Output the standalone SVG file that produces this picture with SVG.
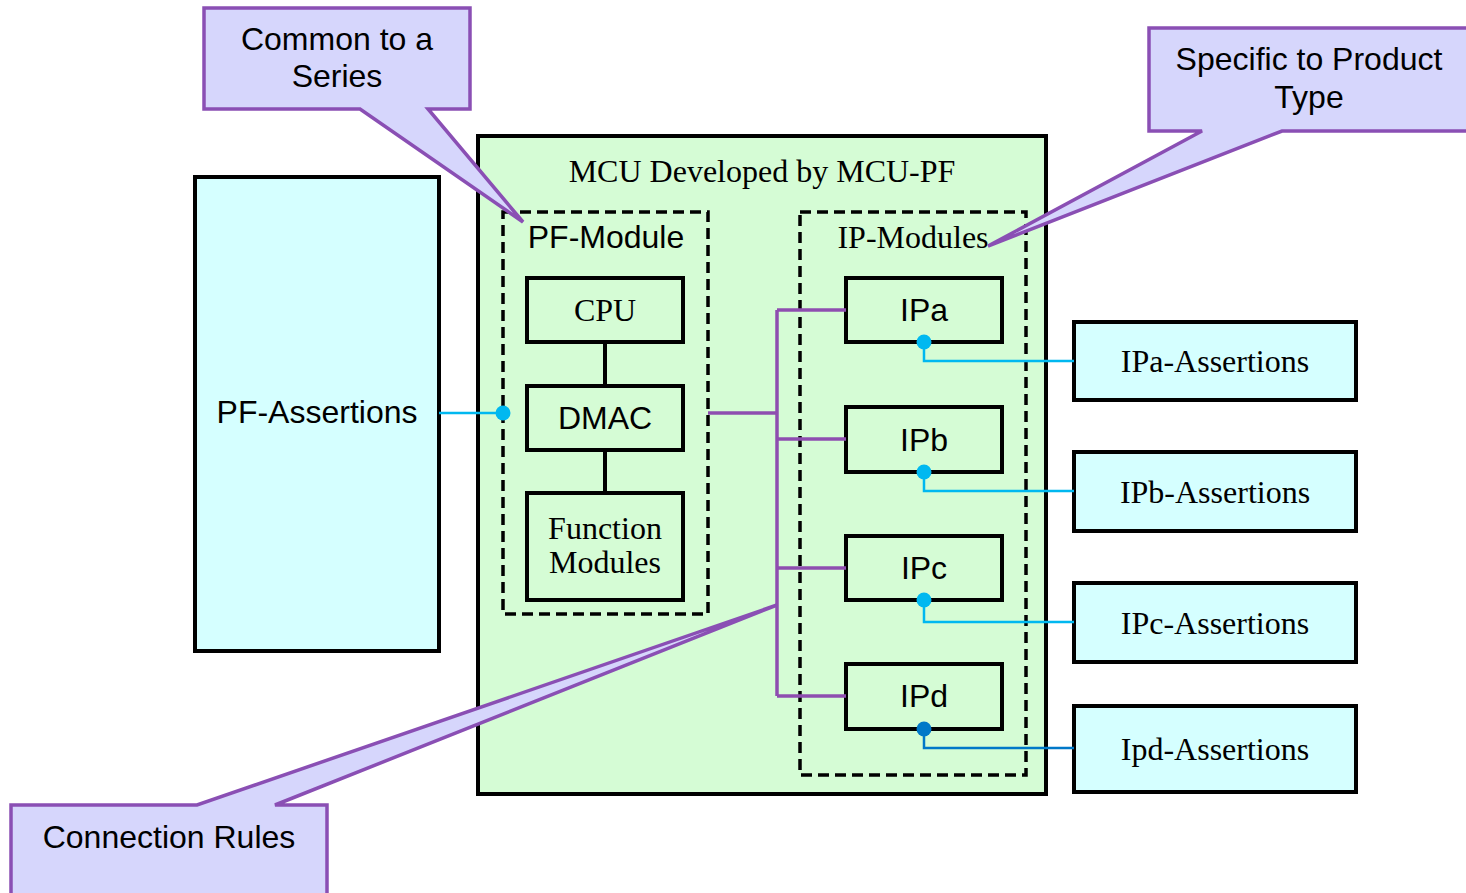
<svg xmlns="http://www.w3.org/2000/svg" width="1466" height="893" viewBox="0 0 1466 893">
  <style>
    .sans { font-family: "Liberation Sans", Arial, sans-serif; font-size: 32px; fill: #000; text-anchor: middle; }
    .serif { font-family: "Liberation Serif", "Times New Roman", serif; font-size: 32px; fill: #000; text-anchor: middle; }
    .blk { fill: #d5fcd5; stroke: #000; stroke-width: 4; }
    .asrt { fill: #d5ffff; stroke: #000; stroke-width: 4; }
    .dash { fill: none; stroke: #000; stroke-width: 3.5; stroke-dasharray: 11 6; }
    .bus { fill: none; stroke: #8e4db0; stroke-width: 3.5; }
    .probe { fill: none; stroke: #00b8f0; stroke-width: 2.5; }
    .dot { fill: #00b8f0; }
    .callout { fill: #d6d6fc; stroke: #8a4fb4; stroke-width: 3.5; stroke-linejoin: miter; }
  </style>

  <rect width="1466" height="893" fill="#ffffff"/>

  <!-- MCU container -->
  <g id="mcu">
    <rect x="478" y="136" width="568" height="658" fill="#d5fcd5" stroke="#000" stroke-width="4"/>
    <text class="serif" x="762" y="182">MCU Developed by MCU-PF</text>
  </g>

  <!-- PF-Assertions -->
  <g id="pf-assertions">
    <rect class="asrt" x="195" y="177" width="244" height="474"/>
    <text class="sans" x="317" y="423">PF-Assertions</text>
  </g>

  <!-- PF-Module group -->
  <g id="pf-module">
    <rect class="dash" x="503" y="212" width="205" height="402"/>
    <text class="sans" x="606" y="248">PF-Module</text>
  </g>
  <g id="cpu">
    <rect class="blk" x="527" y="278" width="156" height="64"/>
    <text class="serif" x="605" y="321">CPU</text>
  </g>
  <g id="dmac">
    <rect class="blk" x="527" y="386" width="156" height="64"/>
    <text class="sans" x="605" y="429">DMAC</text>
  </g>
  <g id="function-modules">
    <rect class="blk" x="527" y="493" width="156" height="107"/>
    <text class="serif" x="605" y="539">Function</text>
    <text class="serif" x="605" y="573">Modules</text>
  </g>

  <!-- IP-Modules group -->
  <g id="ip-modules">
    <rect class="dash" x="800" y="212" width="226" height="563"/>
    <text class="serif" x="913" y="248">IP-Modules</text>
  </g>
  <g id="ipa">
    <rect class="blk" x="846" y="278" width="156" height="64"/>
    <text class="sans" x="924" y="321">IPa</text>
  </g>
  <g id="ipb">
    <rect class="blk" x="846" y="407" width="156" height="65"/>
    <text class="sans" x="924" y="451">IPb</text>
  </g>
  <g id="ipc">
    <rect class="blk" x="846" y="536" width="156" height="64"/>
    <text class="sans" x="924" y="579">IPc</text>
  </g>
  <g id="ipd">
    <rect class="blk" x="846" y="664" width="156" height="65"/>
    <text class="sans" x="924" y="707">IPd</text>
  </g>

  <!-- Assertion blocks for IPs -->
  <g id="ipa-assertions">
    <rect class="asrt" x="1074" y="322" width="282" height="78"/>
    <text class="serif" x="1215" y="372">IPa-Assertions</text>
  </g>
  <g id="ipb-assertions">
    <rect class="asrt" x="1074" y="452" width="282" height="79"/>
    <text class="serif" x="1215" y="503">IPb-Assertions</text>
  </g>
  <g id="ipc-assertions">
    <rect class="asrt" x="1074" y="583" width="282" height="79"/>
    <text class="serif" x="1215" y="634">IPc-Assertions</text>
  </g>
  <g id="ipd-assertions">
    <rect class="asrt" x="1074" y="706" width="282" height="86"/>
    <text class="serif" x="1215" y="760">Ipd-Assertions</text>
  </g>

  <!-- Connectors -->
  <g id="connectors">
    <!-- internal PF links -->
    <line x1="605" y1="342" x2="605" y2="386" stroke="#000" stroke-width="4"/>
    <line x1="605" y1="450" x2="605" y2="493" stroke="#000" stroke-width="4"/>
    <!-- bus from DMAC to IP blocks -->
    <path class="bus" d="M708,413 H777 M777,310 V696 M777,310 H846 M777,439 H846 M777,568 H846 M777,696 H846"/>
    <!-- assertion probes -->
    <path class="probe" d="M439,413 H503"/>
    <circle class="dot" cx="503" cy="413" r="7.5"/>
    <path class="probe" d="M924,342 V361 H1074"/>
    <circle class="dot" cx="924" cy="342" r="7.5"/>
    <path class="probe" d="M924,472 V491 H1074"/>
    <circle class="dot" cx="924" cy="472" r="7.5"/>
    <path class="probe" d="M924,600 V622 H1074"/>
    <circle class="dot" cx="924" cy="600" r="7.5"/>
    <path d="M924,729 V748 H1074" fill="none" stroke="#0078c8" stroke-width="2.5"/>
    <circle cx="924" cy="729" r="7.5" fill="#0078c8"/>
  </g>

  <!-- Callouts -->
  <g id="callout-series">
    <path class="callout" d="M204,8 H470 V109 H428 L523,222 L360,109 H204 Z"/>
    <text class="sans" x="337" y="50">Common to a</text>
    <text class="sans" x="337" y="87">Series</text>
  </g>
  <g id="callout-product">
    <path class="callout" d="M1149,28 H1475 V131 H1282 L988,246 L1202,131 H1149 Z"/>
    <text class="sans" x="1309" y="70">Specific to Product</text>
    <text class="sans" x="1309" y="108">Type</text>
  </g>
  <g id="callout-connection">
    <path class="callout" d="M11,805 H197 L777,605 L275,805 H327 V900 H11 Z"/>
    <text class="sans" x="169" y="848">Connection Rules</text>
  </g>
</svg>
